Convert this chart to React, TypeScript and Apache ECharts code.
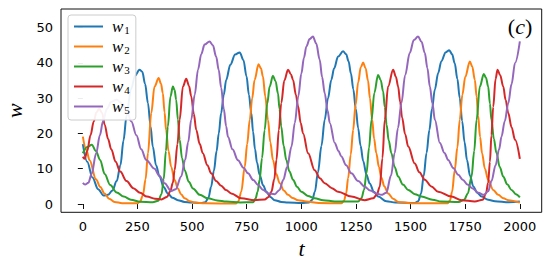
import React, { useEffect, useRef } from "react";
import * as echarts from "echarts";

const xTicks = [0, 250, 500, 750, 1000, 1250, 1500, 1750, 2000];
const yTicks = [0, 10, 20, 30, 40, 50];
const seriesNames = ["w1", "w2", "w3", "w4", "w5"];
const seriesColors = ["#1f77b4", "#ff7f0e", "#2ca02c", "#d62728", "#9467bd"];

const w1: number[][] = [[0,17],[20,12],[44,7.5],[70,4.2],[95,2.4],[115,2.6],[135,3.8],[155,6.5],[172,11],[186,18],[200,25],[220,32.5],[240,36.5],[259,38.1],[272,37.5],[285,34],[298,28.6],[310,22],[320,16.3],[335,11],[351,7.8],[370,4.8],[389,3],[410,1.8],[435,1.1],[465,0.6],[496,0.4],[540,0.3],[560,0.5],[575,1.8],[587,4.9],[600,9.5],[612,15],[622,20],[633,25.8],[645,31],[656,35.2],[675,39.5],[697,42.4],[718,43],[735,40.8],[749,36.2],[760,31],[771,25.8],[779,20.5],[788,15.5],[797,11.8],[809,8.3],[825,5.3],[840,3.5],[858,2],[878,1.1],[908,0.6],[939,0.4],[1000,0.3],[1035,0.4],[1050,1.2],[1062,3.5],[1076,9],[1092,16.5],[1107,23.9],[1122,30],[1137,35.2],[1150,38.5],[1168,41.8],[1191,43.3],[1205,42.5],[1216,40.5],[1227,37],[1238,32.5],[1249,27],[1260,21.5],[1271,16.5],[1283,12.2],[1298,8.3],[1313,5.8],[1332,3.5],[1352,2.1],[1389,0.8],[1430,0.4],[1520,0.3],[1535,0.8],[1548,3],[1560,8],[1573,14.5],[1586,21],[1598,27],[1611,32.5],[1626,37.1],[1641,40.5],[1660,43],[1677,43.6],[1690,42.5],[1702,39.9],[1714,35.5],[1725,30],[1736,23.5],[1747,17.5],[1758,12.5],[1772,8],[1787,5],[1805,3.2],[1825,2.1],[1855,1.2],[1886,0.8],[1950,0.5],[2000,0.7]];

const w2: number[][] = [[0,19.1],[15,15.5],[31,12.4],[60,7],[80,4.8],[99,3],[120,1.5],[145,0.6],[180,0.25],[250,0.2],[262,0.7],[275,2.5],[287,7],[298,14.4],[313,25.8],[328,33.3],[347,35.7],[358,34],[366,31.4],[374,26],[381,21],[392,15],[404,10.6],[420,6.8],[435,4.4],[450,2.7],[466,1.6],[490,0.8],[511,0.4],[560,0.2],[700,0.15],[712,0.8],[725,3.5],[741,10.6],[752,17],[764,23.9],[775,30],[786,35.2],[804,39.6],[815,38.5],[824,36.2],[835,30.5],[847,23.9],[858,17.5],[870,12.5],[885,8.5],[901,5.9],[920,3.8],[939,2.6],[960,1.7],[985,1.1],[1023,0.7],[1080,0.3],[1183,0.2],[1195,0.9],[1205,3],[1214,7.3],[1226,14],[1237,21],[1248,28],[1260,34.5],[1272,38.8],[1283,40.1],[1294,38.5],[1305,35],[1314,30],[1324,23.9],[1333,18.5],[1343,14.4],[1355,10.5],[1366,7.5],[1380,5],[1397,3],[1420,1.5],[1443,0.6],[1500,0.25],[1670,0.2],[1680,1],[1690,3.5],[1702,9.6],[1714,16],[1725,23.9],[1737,31],[1750,36],[1771,40.4],[1782,39],[1794,35.2],[1802,30.5],[1809,25],[1818,19],[1827,14.4],[1840,10],[1855,6.9],[1878,4],[1901,2.6],[1925,1.6],[1947,1.1],[2000,0.4]];

const w3: number[][] = [[0,14.4],[20,16.2],[41,16.8],[60,15],[79,12.5],[100,8.5],[125,5.4],[155,3.3],[187,2.1],[220,1.2],[262,0.65],[320,0.5],[345,0.9],[360,2.8],[370,7],[380,15],[389,22],[401,30.5],[412,33.3],[420,32.3],[427,29.6],[435,24],[443,18.2],[454,13],[466,9.6],[485,6.3],[504,4.4],[535,2.6],[572,1.6],[615,1],[657,0.7],[720,0.45],[779,0.5],[790,1.5],[800,3.5],[809,6.9],[820,13],[832,21],[844,28.5],[855,33.3],[870,36.4],[882,34.8],[893,31.4],[900,27],[908,22],[919,16.5],[931,12.5],[945,9.3],[962,6.9],[980,4.9],[1000,3.5],[1030,2.3],[1061,1.6],[1100,1.1],[1153,0.7],[1260,0.7],[1275,1.6],[1287,4],[1298,8.7],[1310,16],[1321,23.9],[1334,31.5],[1351,36.6],[1363,35.2],[1374,32],[1382,27.5],[1390,22.5],[1400,18],[1412,14.4],[1427,10.5],[1443,7.8],[1465,5.5],[1489,4],[1520,2.8],[1550,2.1],[1600,1.2],[1641,0.7],[1720,0.6],[1745,1.2],[1762,3],[1779,7.8],[1791,15],[1802,23.9],[1817,33.3],[1835,36.9],[1845,35.8],[1855,33.3],[1863,28.5],[1870,23.9],[1881,18.5],[1893,14.4],[1908,10.5],[1924,7.8],[1942,5.6],[1962,4],[1982,2.8],[2000,1.9]];

const w4: number[][] = [[0,13.4],[8,12.8],[20,15],[35,19.5],[50,23.4],[62,26],[75,27],[88,25.8],[100,22.5],[115,18.5],[130,15.5],[150,12],[171,9.2],[200,6.5],[231,4.5],[262,3.2],[293,2.1],[330,1.5],[360,1.3],[385,2],[400,3.6],[412,6],[420,9.6],[433,17],[443,23.9],[458,33.3],[473,35.5],[486,33.5],[496,30.5],[508,25.5],[519,21],[535,17],[549,14.4],[570,11],[587,8.7],[610,6.5],[633,5.2],[655,4],[679,3],[725,1.6],[786,1.1],[832,1.3],[850,2],[863,3.5],[876,7],[886,12.5],[897,21],[908,28.6],[922,35],[939,38.1],[952,36.8],[962,35.2],[975,31],[985,27.7],[997,23],[1008,20],[1031,14.4],[1061,9.6],[1085,7.3],[1107,5.9],[1140,4.5],[1168,3.5],[1229,2.1],[1290,1.1],[1328,1.6],[1345,2.6],[1359,4.9],[1371,13],[1382,23.9],[1397,33.3],[1420,38.1],[1433,36],[1443,33.3],[1452,29],[1461,24.5],[1475,19.8],[1489,16.3],[1519,11.5],[1540,9],[1565,6.9],[1595,5],[1626,3.5],[1687,2.1],[1733,1.1],[1794,0.7],[1830,1.2],[1845,3],[1855,6],[1863,12],[1870,19.5],[1878,27.5],[1889,35.5],[1898,38.1],[1910,36.5],[1924,33.3],[1935,29.5],[1947,25.8],[1962,21.8],[1978,18.2],[2000,12.8]];

const w5: number[][] = [[0,6],[10,5.5],[25,6],[40,8.5],[61,14.4],[78,19.5],[92,23.4],[110,27],[130,29],[155,29.6],[180,28.5],[200,26.5],[222,23.4],[245,19.5],[267,15.5],[290,12.5],[328,10],[350,8],[374,5.9],[404,3.7],[425,4.2],[450,7.8],[468,12.5],[482,17.5],[496,23.9],[512,31],[527,38.1],[542,42.5],[557,45.2],[580,46.1],[595,45],[610,41.8],[622,38],[633,33],[645,27],[656,22],[664,19.1],[685,15.5],[710,12.4],[735,10.3],[756,8.7],[780,6.8],[802,5.4],[825,4],[848,3],[878,2.8],[900,4],[917,6.8],[935,10.5],[955,16.3],[970,23],[986,30.5],[1000,37],[1012,41.5],[1023,44.7],[1038,46.8],[1053,47.5],[1068,45.5],[1084,40.9],[1095,36],[1107,31.4],[1120,26.5],[1130,23],[1153,17.3],[1170,15],[1183,13.5],[1205,11],[1229,8.7],[1260,6.5],[1290,4.9],[1315,3.8],[1343,3],[1366,2.6],[1389,3.2],[1410,8],[1427,14.4],[1442,21.5],[1458,28.6],[1475,36.5],[1496,42.8],[1515,46.5],[1534,47.5],[1550,46],[1565,42.8],[1577,38.5],[1588,33.3],[1600,28.5],[1611,23.9],[1634,17.3],[1655,14.5],[1672,12.5],[1695,10.2],[1718,8.3],[1740,6.8],[1760,5.5],[1782,4.5],[1810,3.2],[1835,2.6],[1855,3.6],[1870,6.5],[1889,11],[1905,15.5],[1916,19.1],[1931,23.5],[1947,28.6],[1962,34],[1978,40],[2000,46.1]];

const seriesData = [w1, w2, w3, w4, w5];

const serif = "'Liberation Serif', 'DejaVu Serif', serif";
const sans = "'DejaVu Sans', sans-serif";

export default function App() {
  const ref = useRef<HTMLDivElement>(null);
  useEffect(() => {
    const chart = echarts.init(ref.current as HTMLDivElement, null, { renderer: "svg" });
    chart.setOption({
      animation: false,
      backgroundColor: "#ffffff",
      grid: {
        left: 61,
        right: 8.3,
        top: 9,
        bottom: 57.7,
        containLabel: false,
        outerBoundsMode: "none",
        show: true,
        borderColor: "#111",
        borderWidth: 1,
        backgroundColor: "transparent",
      },
      xAxis: {
        type: "value",
        min: -100,
        max: 2100,
        axisLine: { show: false },
        splitLine: { show: false },
        axisTick: { show: true, length: 5, lineStyle: { color: "#111", width: 1 }, customValues: xTicks },
        axisLabel: {
          customValues: xTicks,
          margin: 8,
          fontFamily: sans,
          fontSize: 13,
          color: "#000",
          formatter: (v: number) => String(v),
        },
      },
      yAxis: {
        type: "value",
        min: -2.35,
        max: 55.3,
        name: "w",
        nameLocation: "middle",
        nameRotate: 90,
        nameGap: 27,
        nameTextStyle: { fontFamily: serif, fontStyle: "italic", fontSize: 22, color: "#000" },
        axisLine: { show: false },
        splitLine: { show: false },
        axisTick: { show: true, length: 5, lineStyle: { color: "#111", width: 1 }, customValues: yTicks },
        axisLabel: {
          customValues: yTicks,
          margin: 8,
          fontFamily: sans,
          fontSize: 13,
          color: "#000",
          formatter: (v: number) => String(v),
        },
      },
      legend: {
        orient: "vertical",
        left: 68,
        top: 15,
        itemWidth: 29,
        itemHeight: 14,
        itemGap: 3,
        padding: [3, 6, 5, 5],
        backgroundColor: "rgba(255,255,255,0.92)",
        borderColor: "#cccccc",
        borderWidth: 1,
        borderRadius: 3,
        itemStyle: { opacity: 0, borderWidth: 0 },
        data: seriesNames,
        formatter: (name: string) => `{w|w}{s|${name.slice(1)}}`,
        textStyle: {
          padding: [0, 0, 0, 4],
          lineHeight: 14,
          rich: {
            w: { fontFamily: serif, fontStyle: "italic", fontSize: 17, lineHeight: 14, color: "#000" },
            s: { fontFamily: serif, fontSize: 11, lineHeight: 8, color: "#000", padding: [6, 0, 0, 1] },
          },
        },
      },
      graphic: [
        {
          type: "text",
          x: 301.5,
          y: 248,
          style: { text: "t", fontFamily: serif, fontStyle: "italic", fontSize: 22, fill: "#000", align: "center", verticalAlign: "middle" },
        },
        {
          type: "text",
          x: 520,
          y: 26,
          style: {
            text: "{p|(}{c|c}{p|)}",
            fill: "#000",
            align: "center",
            verticalAlign: "middle",
            rich: {
              p: { fontFamily: serif, fontSize: 22, fill: "#000" },
              c: { fontFamily: serif, fontStyle: "italic", fontSize: 22, fill: "#000" },
            },
          },
        },
      ],
      series: seriesData.map((d, i) => ({
        name: seriesNames[i],
        type: "line",
        data: d,
        showSymbol: false,
        symbol: "none",
        smooth: 0.35,
        smoothMonotone: "x",
        clip: true,
        lineStyle: { width: 2, color: seriesColors[i] },
        itemStyle: { color: seriesColors[i] },
        z: 2 + i * 0.01,
      })),
    });
    return () => chart.dispose();
  }, []);
  return (
    <div
      ref={ref}
      style={{ position: "fixed", left: 0, top: 0, width: 550, height: 270, background: "#fff" }}
    />
  );
}
